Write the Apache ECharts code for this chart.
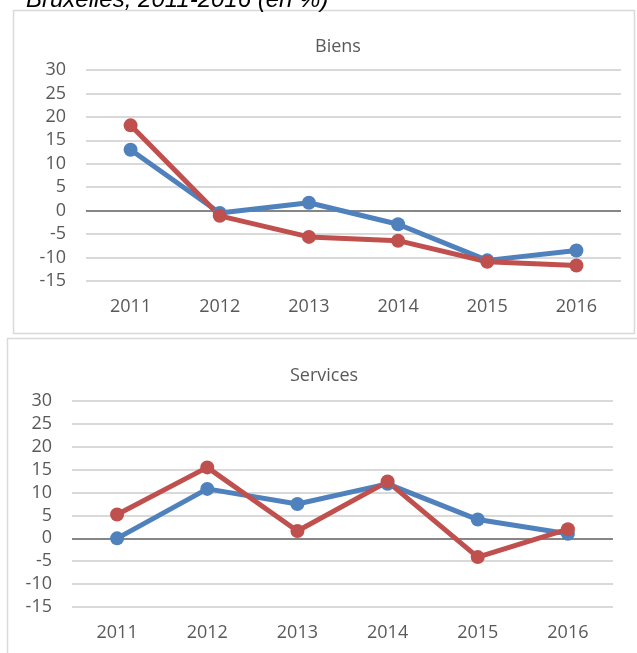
<!DOCTYPE html>
<html>
<head>
<meta charset="utf-8">
<script src="https://cdn.jsdelivr.net/npm/echarts@6/dist/echarts.min.js"></script>
<style>
  html, body { margin: 0; padding: 0; background: #fff; }
  #main { width: 637px; height: 653px; }
</style>
</head>
<body>
<div id="main"></div>
<script>
var dom = document.getElementById("main");
var myChart = echarts.init(dom);

var years = ['2011', '2012', '2013', '2014', '2015', '2016'];

// Biens
var biensBlue = [13, -0.5, 1.7, -2.9, -10.6, -8.5];
var biensRed = [18.2, -1.1, -5.6, -6.4, -10.9, -11.7];

// Services
var servicesBlue = [0, 10.8, 7.5, 11.9, 4.1, 1.0];
var servicesRed = [5.2, 15.5, 1.6, 12.4, -4.1, 2.0];

var blue = '#4f81bd';
var red = '#c0504d';
var grey = '#595959';
var font = 'Open Sans';

// zero line darker than the other grid lines (-15 .. 30, index 3 = 0)
var gridColors = ['#d9d9d9', '#d9d9d9', '#d9d9d9', '#868686', '#d9d9d9', '#d9d9d9', '#d9d9d9', '#d9d9d9', '#d9d9d9', '#d9d9d9'];

function yAxis(idx) {
    return {
        type: 'value', gridIndex: idx, min: -15, max: 30, interval: 5,
        axisLine: { show: false }, axisTick: { show: false },
        axisLabel: { color: grey, fontFamily: font, fontSize: 18, margin: 20 },
        splitLine: { lineStyle: { color: gridColors, width: 2 } }
    };
}

function xAxis(idx) {
    return {
        type: 'category', gridIndex: idx, data: years,
        axisLine: { show: false, onZero: false }, axisTick: { show: false },
        axisLabel: { color: grey, fontFamily: font, fontSize: 18, margin: 17 }
    };
}

function line(name, data, color, idx) {
    return {
        type: 'line', name: name, data: data, xAxisIndex: idx, yAxisIndex: idx,
        symbol: 'circle', symbolSize: 14, color: color,
        lineStyle: { width: 5, color: color },
        itemStyle: { color: color }
    };
}

option = {
    animation: false,
    graphic: [
        { type: 'rect', shape: { x: 13.5, y: 10.5, width: 621, height: 323 },
          style: { fill: 'none', stroke: '#d9d9d9', lineWidth: 1.5 }, z: -1 },
        { type: 'rect', shape: { x: 7.5, y: 338.5, width: 660, height: 340 },
          style: { fill: '#fff', stroke: '#d9d9d9', lineWidth: 1.5 }, z: -1 },
        { type: 'text', left: 26, top: -12,
          style: { text: 'Bruxelles, 2011-2016 (en %)', fill: '#000',
                   font: 'italic 24px "Liberation Sans"' } }
    ],
    title: [
        { text: 'Biens', left: 333, top: 33, textAlign: 'center',
          textStyle: { color: grey, fontFamily: font, fontSize: 18, fontWeight: 'normal' } },
        { text: 'Services', left: 319, top: 362, textAlign: 'center',
          textStyle: { color: grey, fontFamily: font, fontSize: 18, fontWeight: 'normal' } }
    ],
    grid: [
        { left: 86, top: 70, width: 535, height: 211 },
        { left: 72, top: 401, width: 541, height: 206 }
    ],
    xAxis: [xAxis(0), xAxis(1)],
    yAxis: [yAxis(0), yAxis(1)],
    series: [
        line('Série 1', biensBlue, blue, 0),
        line('Série 2', biensRed, red, 0),
        line('Série 1', servicesBlue, blue, 1),
        line('Série 2', servicesRed, red, 1)
    ]
};

if (option && typeof option === "object") {
    myChart.setOption(option, true);
}
</script>
</body>
</html>
